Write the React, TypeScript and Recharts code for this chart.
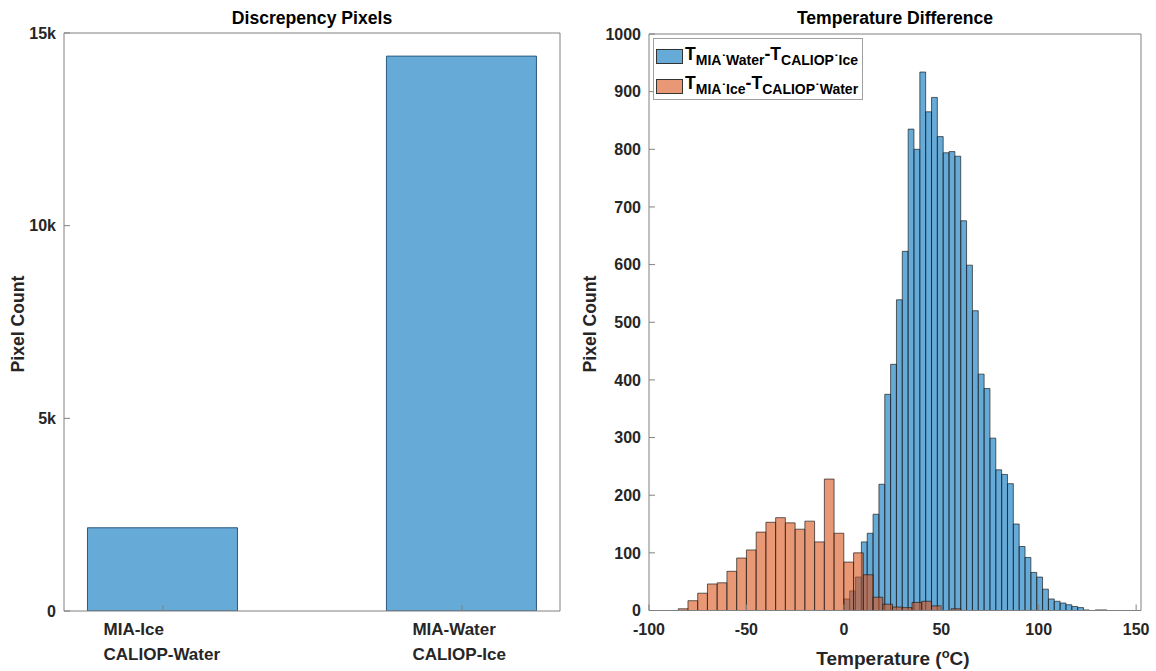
import React from 'react';
import { BarChart, Bar, XAxis, YAxis, Legend } from 'recharts';

const FONT = '"Liberation Sans", Arial, Helvetica, sans-serif';
const AXIS = '#808080';
const TICKTXT = '#262626';

// ---- Left panel: Discrepency Pixels ----
const discPositions = [1, 2];
const discLabelLines = [
  ['MIA-Ice', 'CALIOP-Water'],
  ['MIA-Water', 'CALIOP-Ice'],
];
const discCounts = [2160, 14400];
const discYTicks = [0, 5000, 10000, 15000];
const discYTickLabels = ['0', '5k', '10k', '15k'];

// ---- Right panel: Temperature Difference ----
const waterIceCenters = [
  1.5, 4.5, 7.5, 10.5, 13.5, 16.5, 19.5, 22.5, 25.5, 28.5, 31.5, 34.5, 37.5, 40.5, 43.5,
  46.5, 49.5, 52.5, 55.5, 58.5, 61.5, 64.5, 67.5, 70.5, 73.5, 76.5, 79.5, 82.5, 85.5, 88.5,
  91.5, 94.5, 97.5, 100.5, 103.5, 106.5, 109.5, 112.5, 115.5, 118.5, 121.5, 124.5, 127.5,
  130.5, 133.5,
];
const waterIceCounts = [
  20, 34, 58, 119, 134, 167, 219, 375, 427, 539, 623, 835, 800, 934, 865,
  890, 822, 794, 796, 788, 676, 599, 520, 410, 385, 299, 244, 236, 220, 150,
  111, 92, 66, 58, 37, 20, 16, 13, 10, 7, 5, 1, 0, 1, 1,
];
const iceWaterCenters = [
  -82.5, -77.5, -72.5, -67.5, -62.5, -57.5, -52.5, -47.5, -42.5, -37.5, -32.5, -27.5,
  -22.5, -17.5, -12.5, -7.5, -2.5, 2.5, 7.5, 12.5, 17.5, 22.5, 27.5, 32.5, 37.5, 42.5,
  47.5, 52.5, 57.5,
];
const iceWaterCounts = [
  3, 17, 30, 46, 48, 68, 91, 105, 136, 153, 161, 152, 141, 155, 119, 228, 134,
  84, 100, 62, 23, 11, 6, 5, 14, 16, 8, 0, 3,
];
const tempXTicks = [-100, -50, 0, 50, 100, 150];
const tempYTicks = [0, 100, 200, 300, 400, 500, 600, 700, 800, 900, 1000];
const legendSubs = [
  ['MIA\u02D9Water', 'CALIOP\u02D9Ice'],
  ['MIA\u02D9Ice', 'CALIOP\u02D9Water'],
];
const legendColors = ['rgba(0,114,189,0.6)', 'rgba(217,83,25,0.6)'];

const discData = discPositions.map((p, i) => ({ pos: p, count: discCounts[i] }));
const waterIceData = waterIceCenters.map((c, i) => ({ x: c, count: waterIceCounts[i] }));
const iceWaterData = iceWaterCenters.map((c, i) => ({ x: c, count: iceWaterCounts[i] }));

const tickStyle = { fontSize: 16, fontWeight: 700, fill: TICKTXT, fontFamily: FONT };

function DiscTick(props: any) {
  const { x, y, payload } = props;
  const i = discPositions.indexOf(payload.value);
  if (i < 0) return null;
  const lines = discLabelLines[i];
  const longest = Math.max(...lines.map((s) => s.length));
  const left = x - longest * 4.95;
  return (
    <g>
      {lines.map((s, k) => (
        <text
          key={k}
          x={left}
          y={y + 16 + k * 25}
          textAnchor="start"
          fontSize={17}
          fontWeight={700}
          fill={TICKTXT}
          fontFamily={FONT}
        >
          {s}
        </text>
      ))}
    </g>
  );
}

function TempLegend() {
  return (
    <div
      style={{
        boxSizing: 'border-box',
        width: 210,
        height: 62,
        border: '1px solid #a0a0a0',
        background: '#fff',
        padding: '3px 0 0 2px',
        fontFamily: FONT,
        fontWeight: 700,
        color: '#000',
      }}
    >
      {legendSubs.map((p, i) => (
        <div key={i} style={{ display: 'flex', alignItems: 'center', height: 29.5, whiteSpace: 'nowrap' }}>
          <span
            style={{
              display: 'inline-block',
              boxSizing: 'border-box',
              width: 27,
              height: 15,
              background: legendColors[i],
              border: '1px solid #333',
              marginRight: 2,
              flex: 'none',
            }}
          />
          <span style={{ fontSize: 17.6, lineHeight: '18px' }}>
            T<span style={{ fontSize: 14, verticalAlign: -5 }}>{p[0]}</span>-T
            <span style={{ fontSize: 14, verticalAlign: -5 }}>{p[1]}</span>
          </span>
        </div>
      ))}
    </div>
  );
}

const titleStyle: React.CSSProperties = {
  position: 'absolute',
  transform: 'translateX(-50%)',
  fontFamily: FONT,
  fontWeight: 700,
  fontSize: 17.6,
  lineHeight: '20px',
  color: '#000',
  whiteSpace: 'nowrap',
};

const ylabelStyle: React.CSSProperties = {
  position: 'absolute',
  transform: 'translate(-50%, -50%) rotate(-90deg)',
  fontFamily: FONT,
  fontWeight: 700,
  fontSize: 17.6,
  lineHeight: '20px',
  color: TICKTXT,
  whiteSpace: 'nowrap',
};

export default function App() {
  return (
    <div style={{ position: 'absolute', left: 0, top: 0, width: 1156, height: 671, background: '#fff', overflow: 'hidden' }}>
      {/* Left panel */}
      <div style={{ position: 'absolute', left: 0, top: 0 }}>
        <BarChart width={580} height={671} data={discData} margin={{ top: 3, right: 19, bottom: 0, left: 14 }}>
          <XAxis
            xAxisId="b"
            dataKey="pos"
            type="number"
            domain={[0.669, 2.328]}
            ticks={discPositions}
            allowDataOverflow
            interval={0}
            height={60}
            tickSize={-6}
            tickMargin={14}
            tick={<DiscTick />}
            axisLine={{ stroke: AXIS }}
            tickLine={{ stroke: AXIS }}
          />
          <XAxis
            xAxisId="t"
            orientation="top"
            dataKey="pos"
            type="number"
            domain={[0.669, 2.328]}
            ticks={discPositions}
            allowDataOverflow
            interval={0}
            height={30}
            tickSize={-6}
            tick={false}
            axisLine={{ stroke: AXIS }}
            tickLine={{ stroke: AXIS }}
          />
          <YAxis
            yAxisId="l"
            type="number"
            domain={[0, 15000]}
            ticks={discYTicks}
            allowDataOverflow
            interval={0}
            width={50}
            tickSize={-6}
            tickMargin={14}
            tick={tickStyle}
            tickFormatter={(v: number) => discYTickLabels[discYTicks.indexOf(v)] ?? ''}
            axisLine={{ stroke: AXIS }}
            tickLine={{ stroke: AXIS }}
          />
          <YAxis
            yAxisId="r"
            orientation="right"
            type="number"
            domain={[0, 15000]}
            ticks={discYTicks}
            allowDataOverflow
            interval={0}
            width={1}
            tickSize={-6}
            tick={false}
            axisLine={{ stroke: AXIS }}
            tickLine={{ stroke: AXIS }}
          />
          <Bar
            xAxisId="b"
            yAxisId="l"
            dataKey="count"
            barSize={150}
            fill="#0072BD"
            fillOpacity={0.6}
            stroke="#2d5a80"
            strokeWidth={1}
            isAnimationActive={false}
          />
        </BarChart>
      </div>
      <div style={{ ...titleStyle, left: 312, top: 8 }}>Discrepency Pixels</div>
      <div style={{ ...ylabelStyle, left: 18, top: 324 }}>Pixel Count</div>

      {/* Right panel: blue series underneath */}
      <div style={{ position: 'absolute', left: 580, top: 0 }}>
        <BarChart width={576} height={671} data={waterIceData} margin={{ top: 34, right: 15, bottom: 60.5, left: 69 }}>
          <XAxis dataKey="x" type="number" domain={[-100, 152.5]} allowDataOverflow hide />
          <YAxis type="number" domain={[0, 1000]} allowDataOverflow hide />
          <Bar
            dataKey="count"
            barSize={5.8}
            fill="#0072BD"
            fillOpacity={0.6}
            stroke="#1a1a1a"
            strokeOpacity={0.85}
            strokeWidth={0.8}
            isAnimationActive={false}
          />
        </BarChart>
      </div>
      {/* Right panel: orange series on top, with axes and legend */}
      <div style={{ position: 'absolute', left: 580, top: 0 }}>
        <BarChart width={576} height={671} data={iceWaterData} margin={{ top: 4, right: 14, bottom: 20.5, left: 9 }}>
          <XAxis
            xAxisId="b"
            dataKey="x"
            type="number"
            domain={[-100, 152.5]}
            ticks={tempXTicks}
            allowDataOverflow
            interval={0}
            height={40}
            tickSize={-6}
            tickMargin={19}
            tick={tickStyle}
            axisLine={{ stroke: AXIS }}
            tickLine={{ stroke: AXIS }}
          />
          <XAxis
            xAxisId="t"
            orientation="top"
            dataKey="x"
            type="number"
            domain={[-100, 152.5]}
            ticks={tempXTicks}
            allowDataOverflow
            interval={0}
            height={30}
            tickSize={-6}
            tick={false}
            axisLine={{ stroke: AXIS }}
            tickLine={{ stroke: AXIS }}
          />
          <YAxis
            yAxisId="l"
            type="number"
            domain={[0, 1000]}
            ticks={tempYTicks}
            allowDataOverflow
            interval={0}
            width={60}
            tickSize={-6}
            tickMargin={14}
            tick={tickStyle}
            axisLine={{ stroke: AXIS }}
            tickLine={{ stroke: AXIS }}
          />
          <YAxis
            yAxisId="r"
            orientation="right"
            type="number"
            domain={[0, 1000]}
            ticks={tempYTicks}
            allowDataOverflow
            interval={0}
            width={1}
            tickSize={-6}
            tick={false}
            axisLine={{ stroke: AXIS }}
            tickLine={{ stroke: AXIS }}
          />
          <Bar
            xAxisId="b"
            yAxisId="l"
            dataKey="count"
            barSize={9.7}
            fill="#D95319"
            fillOpacity={0.6}
            stroke="#1a1a1a"
            strokeOpacity={0.85}
            strokeWidth={0.8}
            isAnimationActive={false}
          />
          <Legend
            content={<TempLegend />}
            layout="horizontal"
            verticalAlign="middle"
            align="center"
            wrapperStyle={{ left: 73, top: 38, width: 210, height: 62 }}
          />
        </BarChart>
      </div>
      <div style={{ ...titleStyle, left: 895, top: 8 }}>Temperature Difference</div>
      <div style={{ ...ylabelStyle, left: 590, top: 324 }}>Pixel Count</div>
      <div style={{ ...titleStyle, left: 893, top: 643, fontSize: 19, lineHeight: '22px', color: TICKTXT }}>
        Temperature (<span style={{ fontSize: 13, verticalAlign: 7 }}>o</span>C)
      </div>
    </div>
  );
}
